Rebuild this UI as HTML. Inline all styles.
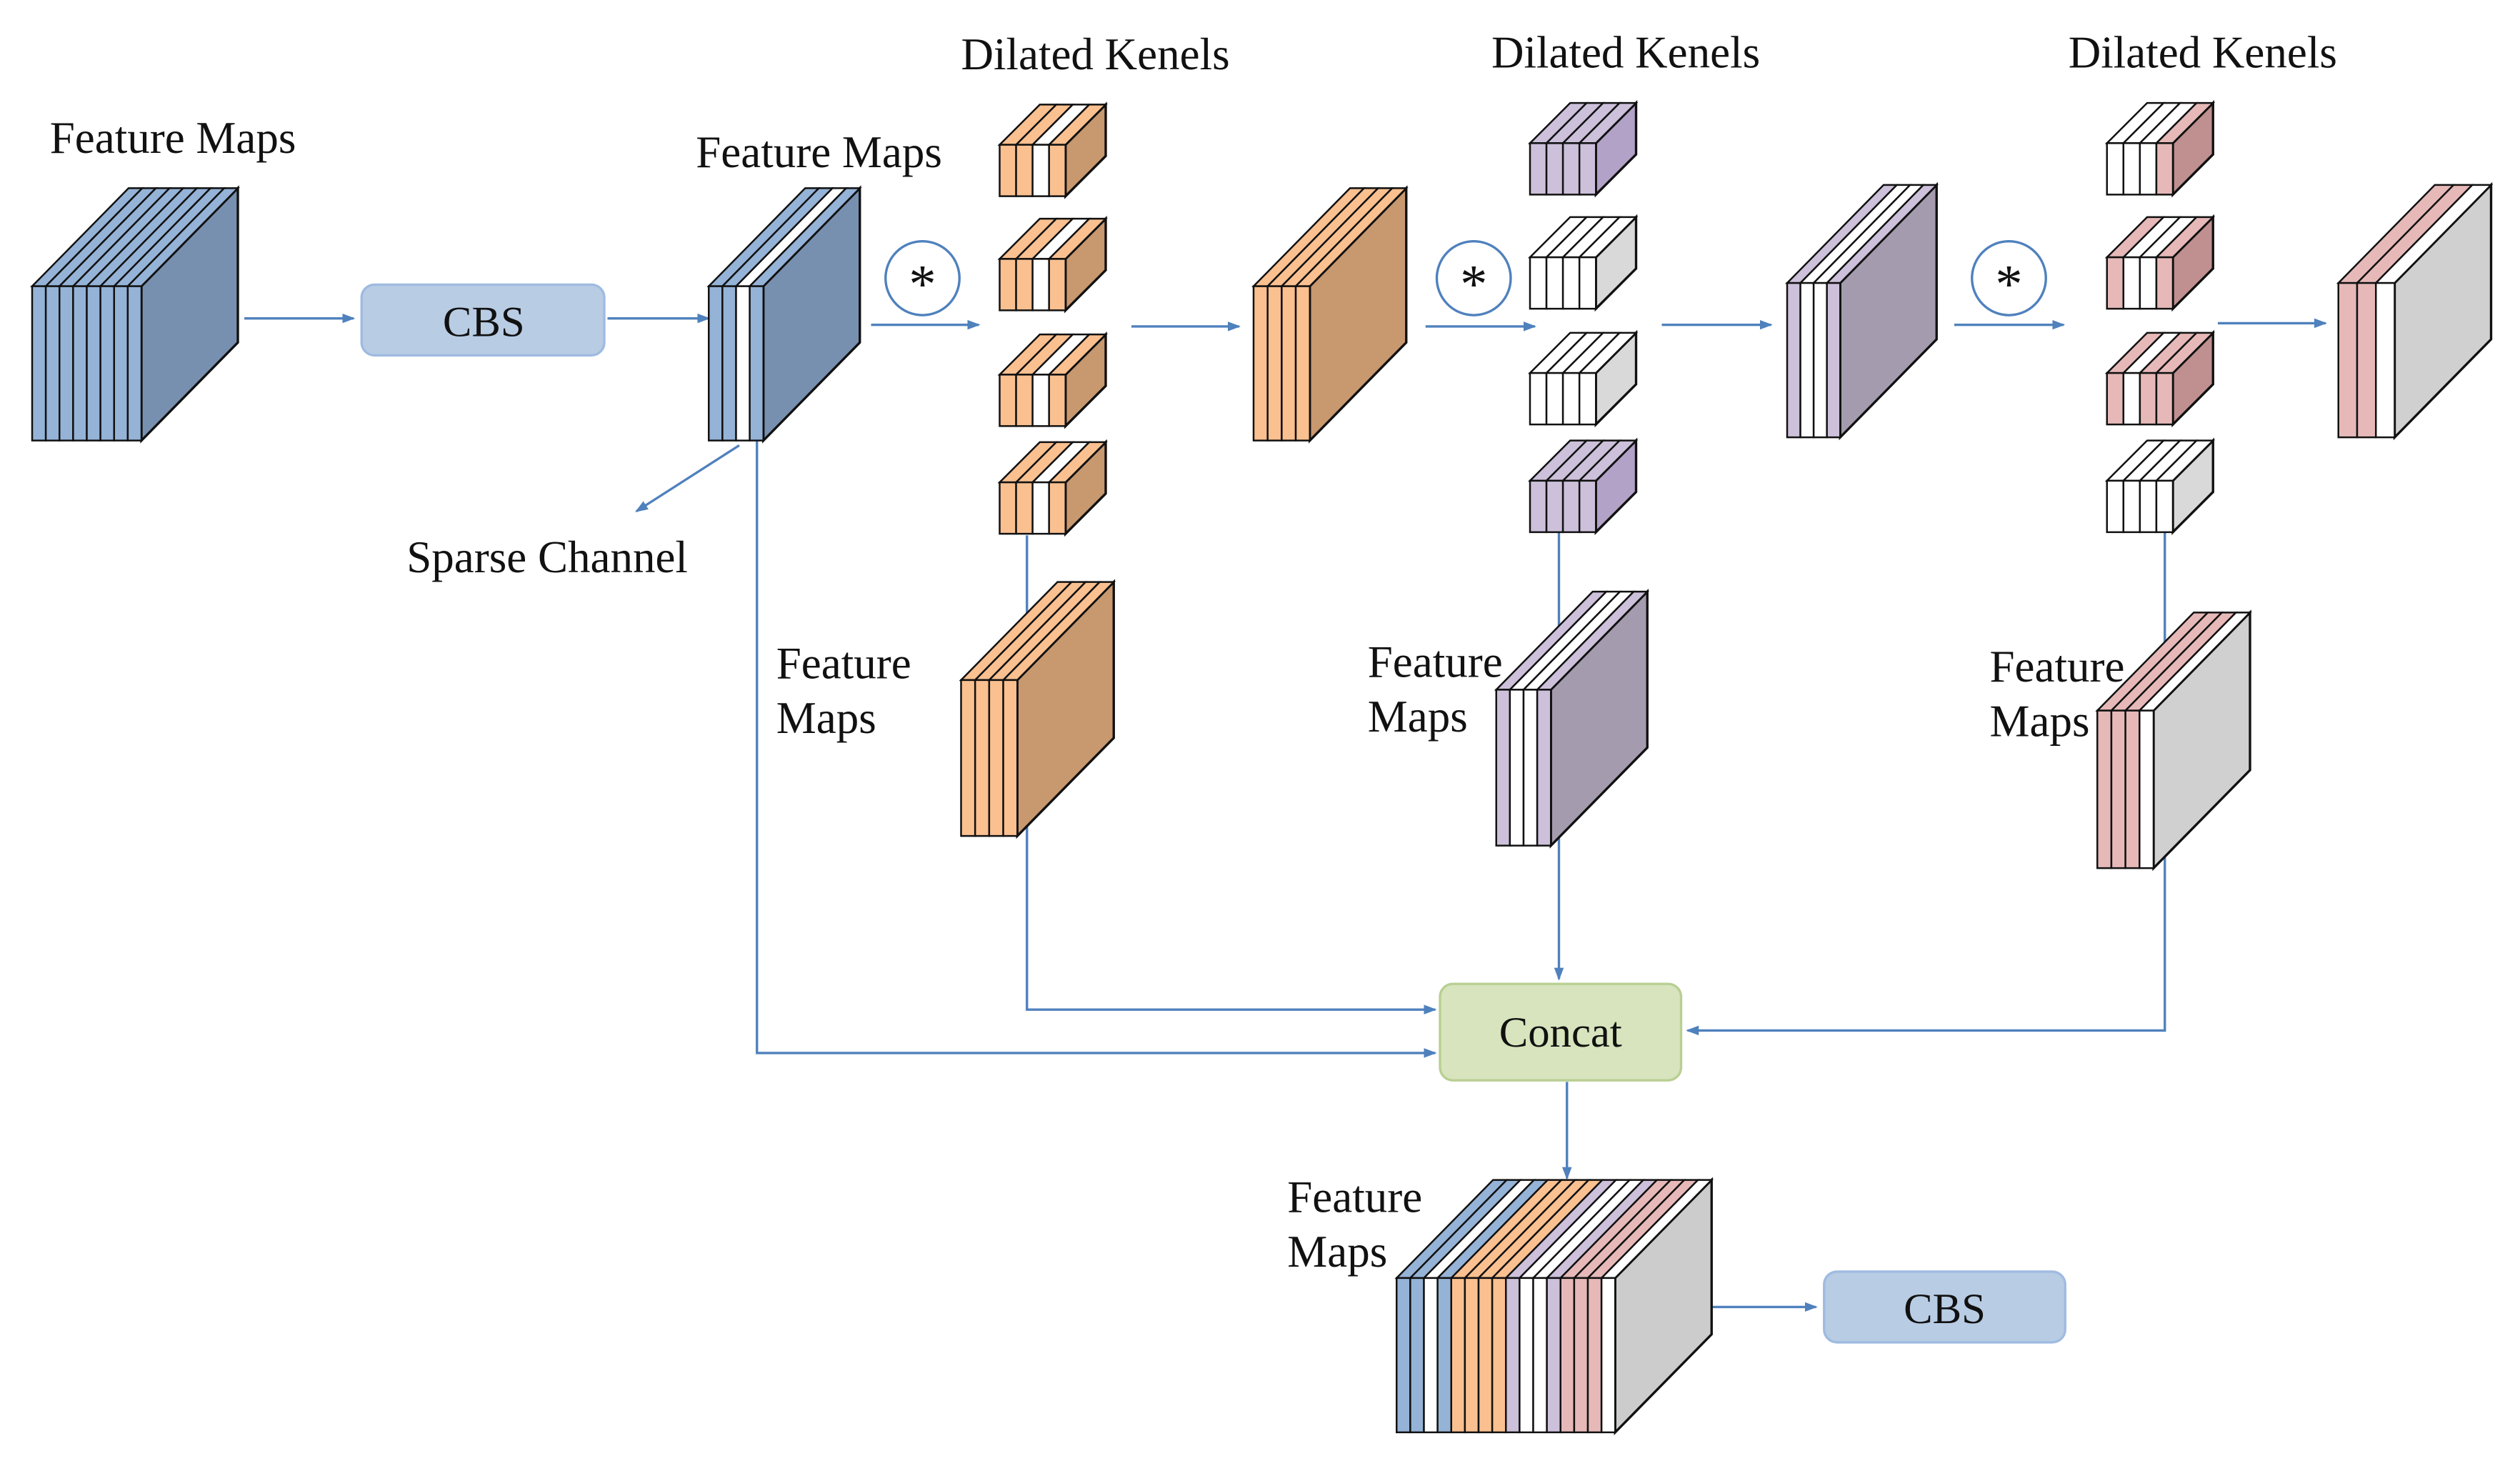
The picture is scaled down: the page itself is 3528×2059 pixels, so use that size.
<!DOCTYPE html>
<html><head><meta charset="utf-8"><style>html,body{margin:0;padding:0;background:#fff}svg{display:block}text{font-family:"Liberation Serif",serif;fill:#111}</style></head>
<body>
<svg id="s" width="3528" height="2059" viewBox="0 0 1568 915" xmlns="http://www.w3.org/2000/svg">
<defs><marker id="a" markerWidth="8" markerHeight="8" refX="7" refY="4" orient="auto" markerUnits="userSpaceOnUse"><path d="M0,1 L8,4 L0,7 Z" fill="#4f81bd"/></marker></defs>
<g id="g"></g>
</svg>
<script>
var B='#95b3d7',W='#ffffff',O='#fac090',P='#ccc0da',K='#e6b9b8';
var out='';
function sc(x,y,w,h,dx,dy,cols,side){
  var n=cols.length,sw=w/n,s='';
  s+='<polygon points="'+(x+w)+','+y+' '+(x+w+dx)+','+(y-dy)+' '+(x+w+dx)+','+(y+h-dy)+' '+(x+w)+','+(y+h)+'" fill="'+side+'" stroke="#111" stroke-width="1.5"/>';
  for(var i=0;i<n;i++){
    var a=x+i*sw,b=a+sw;
    s+='<polygon points="'+a+','+y+' '+(a+dx)+','+(y-dy)+' '+(b+dx)+','+(y-dy)+' '+b+','+y+'" fill="'+cols[i]+'" stroke="#111" stroke-width="1.1"/>';
    s+='<rect x="'+a+'" y="'+y+'" width="'+sw+'" height="'+h+'" fill="'+cols[i]+'" stroke="#111" stroke-width="1.1"/>';
  }
  out+=s;
}
function line(d,arrow){out+='<path d="'+d+'" fill="none" stroke="#4f81bd" stroke-width="1.5"'+(arrow?' marker-end="url(#a)"':'')+'/>';}
function t(x,y,s,sz,anchor){out+='<text x="'+x+'" y="'+y+'" font-size="'+(sz||28)+'"'+(anchor?' text-anchor="middle"':'')+'>'+s+'</text>';}
line('M471,274 L471,655 L893,655',1);
line('M639,333 L639,628 L893,628',1);
line('M970,330 L970,609',1);
line('M1347,330 L1347,641 L1050,641',1);
line('M975,673 L975,733',1);
line('M152,198 L220,198',1);
line('M378,198 L441,198',1);
line('M542,202 L609,202',1);
line('M704,203 L771,203',1);
line('M887,203 L955,203',1);
line('M1034,202 L1102,202',1);
line('M1216,202 L1284,202',1);
line('M1380,201 L1447,201',1);
line('M460,277 L396,318',1);
line('M1065,813 L1130,813',1);
sc(20,178,68,96,60,61,[B,B,B,B,B,B,B,B],'#7890b0');
sc(441,178,34,96,60,61,[B,B,W,B],'#7890b0');
[65,136,208,275].forEach(function(y){sc(622,y+25,41,32,25,25,[O,O,W,O],'#c8986f');});
sc(780,178,35,96,60,61,[O,O,O,O],'#c8986f');
[[64,[P,P,P,P],'#b3a2c7'],[135,[W,W,W,W],'#d9d9d9'],[207,[W,W,W,W],'#d9d9d9'],[274,[P,P,P,P],'#b3a2c7']].forEach(function(k){sc(952,k[0]+25,41,32,25,25,k[1],k[2]);});
sc(1112,176,33,96,60,61,[P,W,W,P],'#a59bae');
[[64,[W,W,W,K],'#c09090'],[135,[K,W,W,K],'#c09090'],[207,[K,W,K,K],'#c09090'],[274,[W,W,W,W],'#d9d9d9']].forEach(function(k){sc(1311,k[0]+25,41,32,25,25,k[1],k[2]);});
sc(1455,176,35,96,60,61,[K,K,W],'#d0d0d0');
sc(598,423,35,97,60,61,[O,O,O,O],'#c8986f');
sc(931,429,34,97,60,61,[P,W,W,P],'#a59bae');
sc(1305,442,35,98,60,61,[K,K,K,W],'#d0d0d0');
sc(869,795,136,96,60,61,[B,B,W,B,O,O,O,O,P,W,W,P,K,K,K,W],'#cccccc');
out+='<rect x="225" y="177" width="151" height="44" rx="8" fill="#b8cce4" stroke="#9fbbe0" stroke-width="1.5"/>';
out+='<rect x="1135" y="791" width="150" height="44" rx="8" fill="#b8cce4" stroke="#9fbbe0" stroke-width="1.5"/>';
out+='<rect x="896" y="612" width="150" height="60" rx="8" fill="#d7e4bd" stroke="#b9cf93" stroke-width="1.5"/>';
t(301,209,'CBS',27,1);t(1210,823,'CBS',27,1);t(971,651,'Concat',27,1);
[574,917,1250].forEach(function(cx){out+='<circle cx="'+cx+'" cy="173" r="23" fill="#fff" stroke="#4f81bd" stroke-width="1.5"/>';t(cx,188,'*',34,1);});
t(31,95,'Feature Maps');t(433,104,'Feature Maps');
t(598,43,'Dilated Kenels');t(928,42,'Dilated Kenels');t(1287,42,'Dilated Kenels');
t(253,356,'Sparse Channel');
t(483,422,'Feature');t(483,456,'Maps');
t(851,421,'Feature');t(851,455,'Maps');
t(1238,424,'Feature');t(1238,458,'Maps');
t(801,754,'Feature');t(801,788,'Maps');
document.getElementById('g').innerHTML=out;
</script>
</body></html>
